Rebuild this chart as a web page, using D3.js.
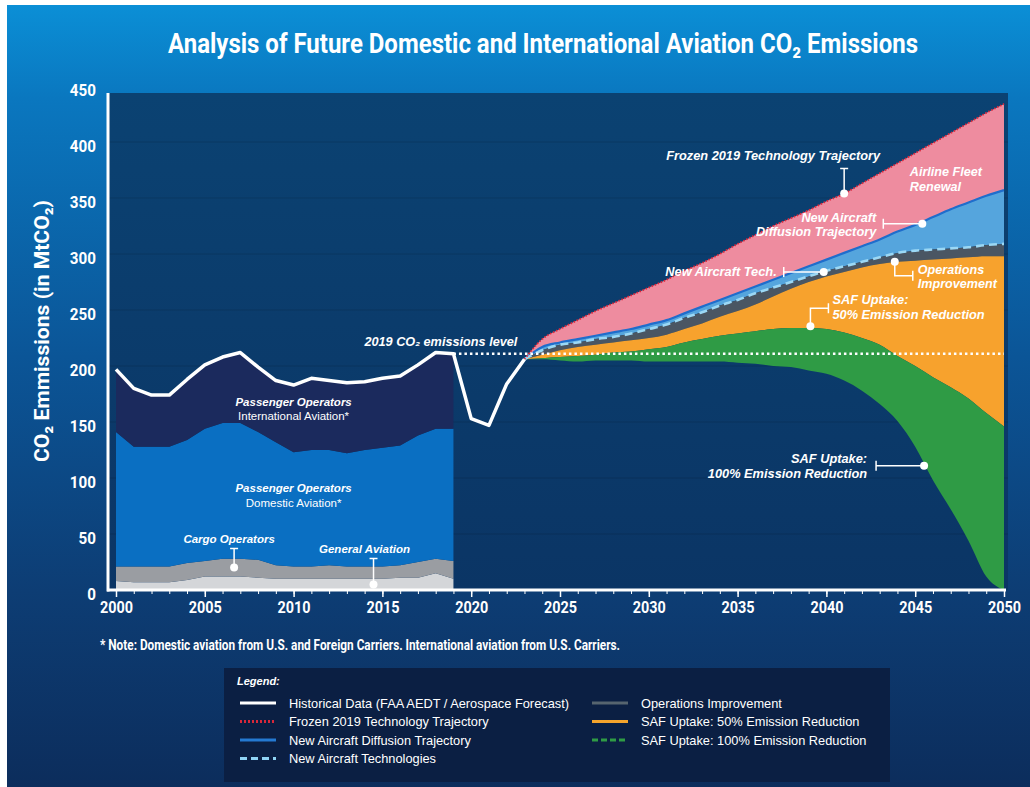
<!DOCTYPE html>
<html>
<head>
<meta charset="utf-8">
<script src="https://cdn.jsdelivr.net/npm/d3@7"></script>
<style>
body { margin: 0; background: #fff; }
svg text { font-family: "Liberation Sans", Arial, sans-serif; fill: #fff; }
</style>
</head>
<body>
<div id="chart"></div>
<script>

// historical stacked areas (MtCO2, layer thickness)
var histYears = [2000,2001,2002,2003,2004,2005,2006,2007,2008,2009,2010,2011,2012,2013,2014,2015,2016,2017,2018,2019];
var generalAviation = [8,7,7,7,9,12,12,12,11,10,10,10,10,10,10,10,11,11,15,10];
var cargoOperators = [13,14,14,14,15,14,16,16,16,12,11,11,12,11,11,11,11,14,13,16];
var domesticPassenger = [120,107,107,107,110,118,121,121,114,110,102,104,103,101,104,106,107,113,116,118];
var internationalPassenger = [56,52,46,46,54,57,59,63,58,55,60,64,62,63,61,62,62,63,68,67];

// historical total after 2019
var recentYears = [2020,2021,2022,2023];
var recentEmissions = [153,147,184,206];

// projections
var projYears = [2023,2024,2025,2026,2027,2028,2029,2030,2031,2032,2033,2034,2035,2036,2037,2038,2039,2040,2041,2042,2043,2044,2045,2046,2047,2048,2049,2050];
var frozen2019 = [206,224,233,241,249,256,263,270,277,285,292,300,309,317,325,332,339,347,354,363,372,381,390,399,408,417,426,434];
var diffusion = [206,217,221,224,227,230,233,237,241,247,253,259,265,271,277,283,289,295,301,307,313,320,326,333,340,346,352,357];
var newTech = [206,214,219,221,224,226,229,233,237,243,248,254,259,265,270,275,280,285,289,293,297,301,303,304,305,306,308,309];
var operations = [206,210,214,217,219,221,223,225,228,233,238,244,249,255,262,269,275,280,284,288,291,293,294,295,296,297,298,298];
var saf50 = [206,207,208,209,210,212,213,215,217,221,224,227,229,231,233,234,234,233,230,225,219,209,200,190,181,171,158,146];
var saf100 = [206,206,205,204,205,205,205,204,204,204,204,204,203,202,200,199,196,193,187,178,166,151,128,98,72,44,12,0];

var xTicks = [2000,2005,2010,2015,2020,2025,2030,2035,2040,2045,2050];
var yTicks = [0,50,100,150,200,250,300,350,400,450];

var width = 1030;
var height = 787;

var svg = d3.select("#chart")
    .append("svg")
        .attr("width", width)
        .attr("height", height)
        ;

var defs = svg.append("defs");

var bg = defs.append("linearGradient").attr("id", "bg")
    .attr("x1", 0).attr("y1", 0).attr("x2", 0).attr("y2", 1);
bg.append("stop").attr("offset", "0%").attr("stop-color", "#0b8fd6");
bg.append("stop").attr("offset", "12%").attr("stop-color", "#0a77bf");
bg.append("stop").attr("offset", "45%").attr("stop-color", "#0b5597");
bg.append("stop").attr("offset", "75%").attr("stop-color", "#0d3d74");
bg.append("stop").attr("offset", "100%").attr("stop-color", "#0c2d5c");

var plotBg = defs.append("linearGradient").attr("id", "plotbg")
    .attr("x1", 0).attr("y1", 0).attr("x2", 0).attr("y2", 1);
plotBg.append("stop").attr("offset", "0%").attr("stop-color", "#0b4272");
plotBg.append("stop").attr("offset", "100%").attr("stop-color", "#0b3565");

svg.append("rect")
    .attr("x", 7).attr("y", 5)
    .attr("width", width - 7).attr("height", height - 5)
    .attr("fill", "url(#bg)");

var x = d3.scaleLinear().domain([2000, 2050]).range([116, 1004]);
var y = d3.scaleLinear().domain([0, 450]).range([590, 86]);

// make text narrower, like the condensed face of the original
function condense(sel, factor) {
    sel.each(function() {
        var w = this.getComputedTextLength();
        d3.select(this).attr("textLength", w * factor).attr("lengthAdjust", "spacingAndGlyphs");
    });
}
function fitWidth(sel, w) {
    sel.attr("textLength", w).attr("lengthAdjust", "spacingAndGlyphs");
}

// title
var title = svg.append("text")
    .attr("x", 543).attr("y", 53)
    .attr("text-anchor", "middle")
    .style("font-family", "Roboto")
    .style("font-weight", 700)
    .style("font-size", "27px")
    .text("Analysis of Future Domestic and International Aviation CO\u2082 Emissions");
fitWidth(title, 750);

// plot area
svg.append("rect")
    .attr("x", 108).attr("y", 93)
    .attr("width", 900).attr("height", y(0) - 93)
    .attr("fill", "url(#plotbg)");

svg.append("g").selectAll("line")
    .data(yTicks.slice(1, -1))
    .enter().append("line")
    .attr("x1", 108).attr("x2", 1008)
    .attr("y1", function(d) { return y(d); })
    .attr("y2", function(d) { return y(d); })
    .attr("stroke", "rgba(0,0,0,0.13)")
    .attr("stroke-width", 1);

// historical stack
var histRows = histYears.map(function(yr, i) {
    return { year: yr, ga: generalAviation[i], cargo: cargoOperators[i],
             dom: domesticPassenger[i], intl: internationalPassenger[i] };
});
var layers = d3.stack().keys(["ga", "cargo", "dom", "intl"])(histRows);
var histColors = { ga: "#d4d6d9", cargo: "#9a9da2", dom: "#0a6fc2", intl: "#1b2a5d" };

var histArea = d3.area()
    .x(function(d) { return x(d.data.year); })
    .y0(function(d) { return y(d[0]); })
    .y1(function(d) { return y(d[1]); });

svg.append("g").selectAll("path")
    .data(layers)
    .enter().append("path")
    .attr("fill", function(d) { return histColors[d.key]; })
    .attr("d", histArea);

// projections
var projRows = projYears.map(function(yr, i) {
    return { year: yr, frozen: frozen2019[i], diffusion: diffusion[i], newTech: newTech[i],
             ops: operations[i], saf50: saf50[i], saf100: saf100[i] };
});

var bands = [
    { top: "frozen", bottom: "diffusion", color: "#ee8c9f" },
    { top: "diffusion", bottom: "newTech", color: "#55a5dd" },
    { top: "newTech", bottom: "ops", color: "#4a5663" },
    { top: "ops", bottom: "saf50", color: "#f7a22d" },
    { top: "saf50", bottom: "saf100", color: "#2f9b45" }
];

bands.forEach(function(b) {
    var area = d3.area()
        .curve(d3.curveMonotoneX)
        .x(function(d) { return x(d.year); })
        .y0(function(d) { return y(d[b.bottom]); })
        .y1(function(d) { return y(d[b.top]); });
    svg.append("path").datum(projRows).attr("fill", b.color).attr("d", area);
});

function projLine(key) {
    return d3.line()
        .curve(d3.curveMonotoneX)
        .x(function(d) { return x(d.year); })
        .y(function(d) { return y(d[key]); });
}

svg.append("path").datum(projRows)
    .attr("fill", "none").attr("stroke", "#1f6dcc").attr("stroke-width", 2.2)
    .attr("d", projLine("diffusion"));
svg.append("path").datum(projRows)
    .attr("fill", "none").attr("stroke", "#9bd8f5").attr("stroke-width", 2.6)
    .attr("stroke-dasharray", "8,5")
    .attr("d", projLine("newTech"));
svg.append("path").datum(projRows)
    .attr("fill", "none").attr("stroke", "#e0273b").attr("stroke-width", 1.8)
    .attr("stroke-dasharray", "1.5,1.8")
    .attr("d", projLine("frozen"));

// 2019 level
var level2019 = d3.sum([generalAviation[19], cargoOperators[19], domesticPassenger[19], internationalPassenger[19]]);
svg.append("line")
    .attr("x1", x(2019)).attr("x2", x(2050))
    .attr("y1", y(level2019)).attr("y2", y(level2019))
    .attr("stroke", "#fff").attr("stroke-width", 2.5)
    .attr("stroke-dasharray", "2.5,3");

svg.append("text")
    .attr("x", x(2022.6)).attr("y", y(level2019) - 8)
    .attr("text-anchor", "end")
    .style("font-weight", 700).style("font-style", "italic").style("font-size", "12.7px")
    .text("2019 CO\u2082 emissions level");

// historical line
var histLine = histRows.map(function(d, i) { return { year: d.year, v: layers[3][i][1] }; })
    .concat(recentYears.map(function(yr, i) { return { year: yr, v: recentEmissions[i] }; }));

svg.append("path").datum(histLine)
    .attr("fill", "none").attr("stroke", "#fff").attr("stroke-width", 3.5)
    .attr("stroke-linejoin", "round")
    .attr("d", d3.line()
        .x(function(d) { return x(d.year); })
        .y(function(d) { return y(d.v); }));

// axes
var minor = svg.append("g")
    .attr("transform", "translate(0," + y(0) + ")")
    .call(d3.axisBottom(x).tickValues(d3.range(2000, 2051)).tickSize(4).tickFormat(""));
minor.select(".domain").remove();
minor.selectAll("line").attr("stroke", "#fff").attr("stroke-width", 1);

var xAxis = svg.append("g")
    .attr("transform", "translate(0," + y(0) + ")")
    .call(d3.axisBottom(x).tickValues(xTicks).tickSize(7).tickPadding(5).tickFormat(d3.format("d")));
xAxis.select(".domain").remove();
xAxis.selectAll("line").attr("stroke", "#fff").attr("stroke-width", 1.5);
xAxis.selectAll("text")
    .attr("fill", "#fff")
    .style("font-family", "Roboto").style("font-weight", 700).style("font-size", "16px");
condense(xAxis.selectAll("text"), 0.9);

var yAxis = svg.append("g")
    .attr("transform", "translate(108,0)")
    .call(d3.axisLeft(y).tickValues(yTicks).tickSize(0).tickPadding(12));
yAxis.select(".domain").remove();
yAxis.selectAll("text")
    .attr("fill", "#fff").attr("dy", "0.6em")
    .style("font-family", "Roboto").style("font-weight", 700).style("font-size", "16.5px");
condense(yAxis.selectAll("text"), 0.92);

svg.append("line")
    .attr("x1", 108).attr("x2", 108).attr("y1", 93).attr("y2", y(0) + 1.5)
    .attr("stroke", "#fff").attr("stroke-width", 3);
svg.append("line")
    .attr("x1", 107).attr("x2", 1006).attr("y1", y(0)).attr("y2", y(0))
    .attr("stroke", "#fff").attr("stroke-width", 3);

// y title
var yTitle = svg.append("text")
    .attr("transform", "translate(49,331) rotate(-90)")
    .attr("text-anchor", "middle")
    .style("font-family", "Roboto").style("font-weight", 700).style("font-size", "21px")
    .text("CO\u2082 Emmissions (in MtCO\u2082)");
fitWidth(yTitle, 262);

// labels inside the chart
function label(yr, v, lines, anchor, lh, size, styles) {
    var t = svg.append("text")
        .attr("x", x(yr)).attr("y", y(v))
        .attr("text-anchor", anchor)
        .style("font-size", size);
    lines.forEach(function(s, i) {
        var ts = t.append("tspan").attr("x", x(yr)).attr("dy", i === 0 ? 0 : lh).text(s);
        var st = styles ? styles[i] : "bi";
        if (st === "bi") ts.style("font-weight", 700).style("font-style", "italic");
    });
    return t;
}

label(2010.0, 164, ["Passenger Operators", "International Aviation*"], "middle", 13.5, "11.5px", ["bi", "r"]);
label(2010.0, 87.5, ["Passenger Operators", "Domestic Aviation*"], "middle", 15, "11.5px", ["bi", "r"]);
label(2044.7, 370, ["Airline Fleet", "Renewal"], "start", 15, "12.6px");

// annotations with leaders
var annotations = [
    { year: 2041, value: 354, lead: "up", len: 25, lines: ["Frozen 2019 Technology Trajectory"], anchor: "middle", tx: -71, ty: -33.5, lh: 14, size: "12.8px" },
    { year: 2045.4, value: 327, lead: "left", len: 39, lines: ["New Aircraft", "Diffusion Trajectory"], anchor: "end", tx: -46, ty: -2, lh: 14, size: "12.8px" },
    { year: 2039.85, value: 284, lead: "left", len: 40, lines: ["New Aircraft Tech."], anchor: "end", tx: -47, ty: 4.5, lh: 14, size: "12.8px" },
    { year: 2043.85, value: 293, lead: "downRight", len: 14, len2: 18, lines: ["Operations", "Improvement"], anchor: "start", tx: 23, ty: 12.5, lh: 13.6, size: "12.6px" },
    { year: 2039.1, value: 235.5, lead: "upRight", len: 18, len2: 18, lines: ["SAF Uptake:", "50% Emission Reduction"], anchor: "start", tx: 22, ty: -22, lh: 15, size: "12.8px" },
    { year: 2045.5, value: 111, lead: "left", len: 48, lines: ["SAF Uptake:", "100% Emission Reduction"], anchor: "end", tx: -57, ty: -3, lh: 15.5, size: "12.8px" },
    { year: 2006.65, value: 20, lead: "up", len: 19, lines: ["Cargo Operators"], anchor: "middle", tx: -5, ty: -24.5, lh: 14, size: "11.5px" },
    { year: 2014.5, value: 5, lead: "up", len: 26, lines: ["General Aviation"], anchor: "middle", tx: -9, ty: -31, lh: 14, size: "11.5px" }
];

var ann = svg.append("g");
annotations.forEach(function(a) {
    var cx = x(a.year), cy = y(a.value);
    var p = d3.path();
    if (a.lead === "up") {
        p.moveTo(cx, cy); p.lineTo(cx, cy - a.len);
        p.moveTo(cx - 4, cy - a.len); p.lineTo(cx + 4, cy - a.len);
    } else if (a.lead === "left") {
        p.moveTo(cx, cy); p.lineTo(cx - a.len, cy);
        p.moveTo(cx - a.len, cy - 5); p.lineTo(cx - a.len, cy + 5);
    } else if (a.lead === "downRight") {
        p.moveTo(cx, cy); p.lineTo(cx, cy + a.len); p.lineTo(cx + a.len2, cy + a.len);
        p.moveTo(cx + a.len2, cy + a.len - 5); p.lineTo(cx + a.len2, cy + a.len + 5);
    } else if (a.lead === "upRight") {
        p.moveTo(cx, cy); p.lineTo(cx, cy - a.len); p.lineTo(cx + a.len2, cy - a.len);
        p.moveTo(cx + a.len2, cy - a.len - 5); p.lineTo(cx + a.len2, cy - a.len + 5);
    }
    ann.append("path").attr("d", p.toString())
        .attr("fill", "none").attr("stroke", "#fff").attr("stroke-width", 1.5);
    ann.append("circle").attr("cx", cx).attr("cy", cy).attr("r", 4).attr("fill", "#fff");

    var t = ann.append("text")
        .attr("x", cx + a.tx).attr("y", cy + a.ty)
        .attr("text-anchor", a.anchor)
        .style("font-size", a.size).style("font-weight", 700).style("font-style", "italic");
    a.lines.forEach(function(s, i) {
        t.append("tspan").attr("x", cx + a.tx).attr("dy", i === 0 ? 0 : a.lh).text(s);
    });
});

// footnote
var note = svg.append("text")
    .attr("x", 100).attr("y", 650)
    .style("font-family", "Roboto").style("font-weight", 700).style("font-size", "15px")
    .text("* Note: Domestic aviation from U.S. and Foreign Carriers. International aviation from U.S. Carriers.");
fitWidth(note, 520);

// legend
var legendItems = [
    { label: "Historical Data (FAA AEDT / Aerospace Forecast)", color: "#ffffff", dash: null, col: 0, row: 0 },
    { label: "Frozen 2019 Technology Trajectory", color: "#d9283a", dash: "2,2", col: 0, row: 1 },
    { label: "New Aircraft Diffusion Trajectory", color: "#2479d1", dash: null, col: 0, row: 2 },
    { label: "New Aircraft Technologies", color: "#8fd4f5", dash: "7,4", col: 0, row: 3 },
    { label: "Operations Improvement", color: "#56646f", dash: null, col: 1, row: 0 },
    { label: "SAF Uptake: 50% Emission Reduction", color: "#f5a42c", dash: null, col: 1, row: 1 },
    { label: "SAF Uptake: 100% Emission Reduction", color: "#2f9b45", dash: "6,3", col: 1, row: 2 }
];

var legend = svg.append("g");
legend.append("rect")
    .attr("x", 224).attr("y", 668).attr("width", 666).attr("height", 114)
    .attr("fill", "#0b1f43");
legend.append("text")
    .attr("x", 237).attr("y", 685)
    .style("font-size", "11px").style("font-weight", 700).style("font-style", "italic")
    .text("Legend:");

var colX = [240, 592];
var li = legend.selectAll("g.item")
    .data(legendItems)
    .enter().append("g")
    .attr("class", "item")
    .attr("transform", function(d) { return "translate(" + colX[d.col] + "," + (703 + d.row * 18.5) + ")"; });
li.append("line")
    .attr("x1", 0).attr("x2", 36).attr("y1", 0).attr("y2", 0)
    .attr("stroke", function(d) { return d.color; })
    .attr("stroke-width", 3)
    .attr("stroke-dasharray", function(d) { return d.dash; });
li.append("text")
    .attr("x", 49).attr("y", 4.5)
    .style("font-size", "12.8px")
    .text(function(d) { return d.label; });

</script>
</body>
</html>
